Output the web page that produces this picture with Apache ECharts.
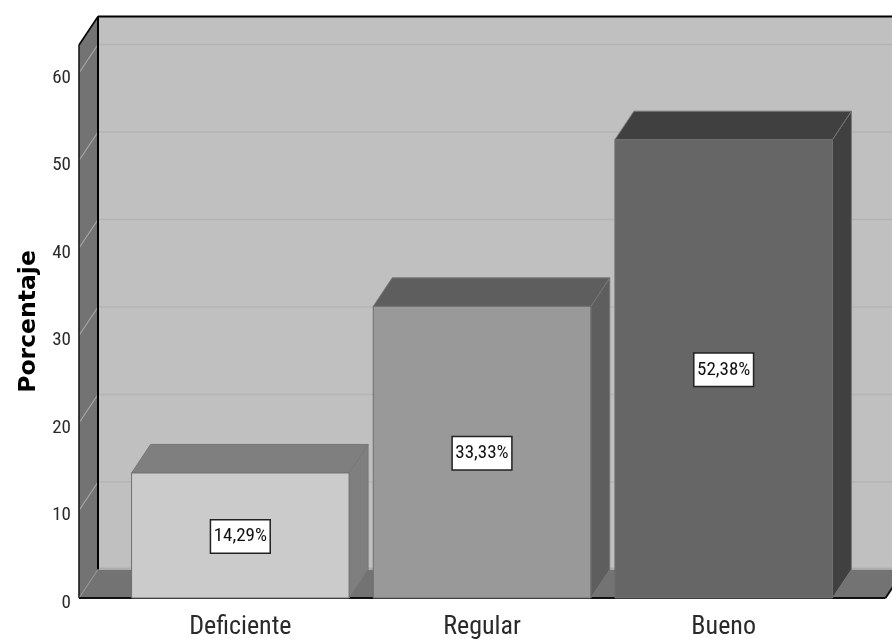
<!DOCTYPE html>
<html><head><meta charset="utf-8">
<style>html,body{margin:0;padding:0;background:#fff}#c{width:892px;height:639px}</style>
<script src="https://cdn.jsdelivr.net/npm/echarts@6/dist/echarts.min.js"></script>
</head><body><div id="c"></div>
<script>
const categories = ['Deficiente', 'Regular', 'Bueno'];
const percentages = [14.29, 33.33, 52.38];
const valueLabels = ['14,29%', '33,33%', '52,38%'];
const yTicks = [0, 10, 20, 30, 40, 50, 60];
const yMax = 63.2;
const axisTitle = 'Porcentaje';
const frontColors = ['#cbcbcb', '#999999', '#666666'];
const shadeColors = ['#7f7f7f', '#5e5e5e', '#404040'];

const DEPTH_X = 19, DEPTH_Y = -28.5;
const OVER_L = 40.5, OVER_R = 41;
const NARROW = 'Roboto,"Liberation Sans",Arial,sans-serif';
const CONDENSED = 'condensed';

function poly(points, fill, stroke, lw) {
  return {type:'polygon', shape:{points}, style:{fill, stroke:stroke||'none', lineWidth:lw||0}};
}
function seg(x1,y1,x2,y2,stroke,lw){
  return {type:'line', shape:{x1,y1,x2,y2}, style:{stroke, lineWidth:lw||1, fill:'none'}};
}

function renderRoom(params, api) {
  const cs = params.coordSys;
  const L = cs.x - OVER_L, R = cs.x + cs.width + OVER_R;
  const y0 = api.coord([0, 0])[1], yT = api.coord([0, yMax])[1];
  const bL = L + DEPTH_X, bR = R + DEPTH_X, by0 = y0 + DEPTH_Y, byT = yT + DEPTH_Y;
  const kids = [
    poly([[bL,byT],[bR,byT],[bR,by0],[bL,by0]], '#c0c0c0'),
    poly([[L,yT],[bL,byT],[bL,by0],[L,y0]], '#737373'),
    poly([[L,y0],[bL,by0],[bR,by0],[R,y0]], '#737373')
  ];
  kids.push(seg(bL,by0-1,bR,by0-1,'#adadad',2));
  yTicks.forEach(t => {
    if (t === 0) return;
    const y = api.coord([0, t])[1];
    kids.push(seg(L,y,bL,y+DEPTH_Y,'#a6a6a6',1.2));
    kids.push(seg(bL,y+DEPTH_Y,bR,y+DEPTH_Y,'#b4b4b4',1.5));
  });
  kids.push(seg(L,yT,L,y0,'#1a1a1a',1.6));
  kids.push(seg(bL,byT,bL,by0,'#000',2));
  kids.push(seg(L,yT,bL,byT,'#000',1.6));
  kids.push(seg(bL,byT,bR,byT,'#000',2));
  kids.push(seg(L,y0,bL,by0,'#999',1));
  kids.push(seg(L,y0,R,y0,'#111',2));
  kids.push(seg(R,y0,bR,by0,'#111',2));
  return {type:'group', children:kids};
}

function renderBar(params, api) {
  const i = api.value(0), v = api.value(1);
  const c = api.coord([i, v]), b = api.coord([i, 0]);
  const w = api.size([1, 0])[0] * 0.9;
  const x1 = c[0] - w/2, x2 = c[0] + w/2, yt = c[1], yb = b[1];
  const edge = '#6f6f6f';
  const shade = shadeColors[i], front = frontColors[i];
  const mid = (yt + yb) / 2;
  return {type:'group', children:[
    poly([[x2,yb],[x2+DEPTH_X,yb+DEPTH_Y],[x2+DEPTH_X,yt+DEPTH_Y],[x2,yt]], shade, '#777', 1),
    poly([[x1,yt],[x1+DEPTH_X,yt+DEPTH_Y],[x2+DEPTH_X,yt+DEPTH_Y],[x2,yt]], shade, '#777', 1),
    poly([[x1,yt],[x2,yt],[x2,yb],[x1,yb]], front, edge, 1),
    {type:'text', x:c[0], y:mid+1, style:{
      text:valueLabels[i], font:'normal condensed 19px '+NARROW, fill:'#111', align:'center', verticalAlign:'middle',
      backgroundColor:'#fff', borderColor:'#222', borderWidth:1.5, padding:[7,2.5,6,2.5]
    }}
  ]};
}

const chart = echarts.init(document.getElementById('c'));
chart.setOption({
  backgroundColor:'#ffffff',
  animation:false,
  grid:{left:119.5, width:725, top:45, height:553, outerBoundsMode:'none'},
  xAxis:{type:'category', data:categories,
    axisLine:{show:false}, axisTick:{show:false}, splitLine:{show:false},
    axisLabel:{margin:16, color:'#2a2a2a', fontFamily:NARROW, fontWeight:CONDENSED, fontSize:26, lineHeight:26}},
  yAxis:{type:'value', min:0, max:yMax, interval:10, offset:OVER_L,
    name:axisTitle, nameLocation:'middle', nameGap:27, nameRotate:90,
    nameTextStyle:{fontFamily:'"DejaVu Sans",sans-serif', fontWeight:'bold', fontSize:23.5, color:'#000'},
    axisLine:{show:false}, axisTick:{show:false}, splitLine:{show:false},
    axisLabel:{margin:8, showMaxLabel:false, color:'#2a2a2a', fontFamily:NARROW, fontWeight:CONDENSED, fontSize:19, verticalAlign:'top', lineHeight:10}},
  series:[
    {type:'custom', silent:true, z:1, renderItem:renderRoom, data:[[0]], encode:{x:0}},
    {type:'custom', z:2, renderItem:renderBar,
     data:percentages.map((v,i)=>[i,v]), encode:{x:0,y:1}}
  ]
});
</script></body></html>
